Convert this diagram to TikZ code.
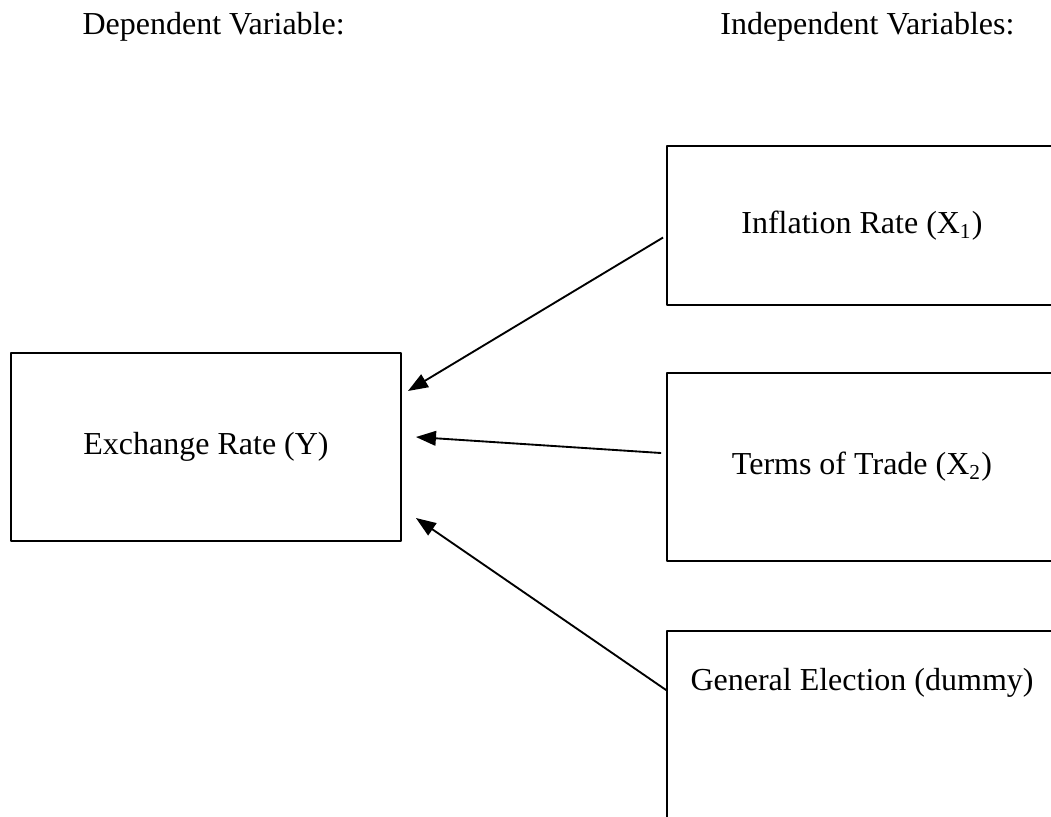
\documentclass[tikz,border=0pt]{standalone}
\usepackage{fontspec}
\setmainfont{Liberation Serif}
\usetikzlibrary{arrows.meta,calc}
\tikzset{
 varbox/.style={draw, rectangle, line width=.7pt, minimum width=146.25pt, inner sep=0pt},
 heading/.style={inner sep=0pt}
}
\begin{document}
\begin{tikzpicture}[x=.375pt, y=-.375pt, font=\fontsize{12}{14}\selectfont, line join=round, >={Triangle[length=7.5pt,width=5.5pt]}]
 \useasboundingbox (0,0) rectangle (1051,816);
 \clip (0,0) rectangle (1051,816);
 % headings
 \node[heading, anchor=base west] (deptitle) at (82,34) {Dependent Variable:};
 \node[heading, anchor=base east] (indtitle) at (1015,34) {Independent Variables:};
 % boxes
 \node[varbox, minimum height=70.5pt] (dep) at (206,447) {Exchange Rate (Y)};
 \node[varbox, minimum height=59.6pt] (infl) at (862,225.5) {Inflation Rate (X\textsubscript{1})};
 \node[varbox, minimum height=70.5pt] (tot) at (862,467) {Terms of Trade (X\textsubscript{2})};
 \node[varbox, minimum height=75pt, anchor=north] (elec) at (862,630) {};
 \node (electext) at (862,683) {General Election (dummy)};
 % arrows
 \draw[->, line width=.7pt] ($(infl.west)+(-3,12)$) -- ($(dep.east)+(6,-56)$);
 \draw[->, line width=.7pt] ($(tot.west)+(-5,-14)$) -- ($(dep.east)+(14,-10)$);
 \draw[->, line width=.7pt] ($(elec.north west)+(0,60)$) -- ($(dep.east)+(14,71)$);
\end{tikzpicture}
\end{document}
